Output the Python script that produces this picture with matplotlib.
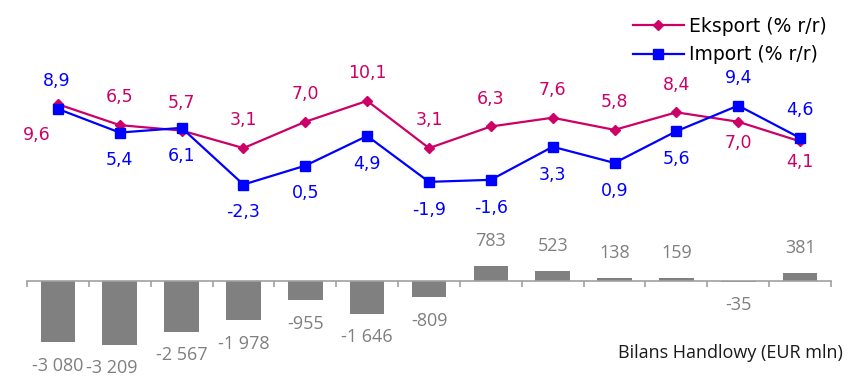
import matplotlib.pyplot as plt

# dane
okresy = list(range(13))
eksport = [9.6, 6.5, 5.7, 3.1, 7.0, 10.1, 3.1, 6.3, 7.6, 5.8, 8.4, 7.0, 4.1]
import_ = [8.9, 5.4, 6.1, -2.3, 0.5, 4.9, -1.9, -1.6, 3.3, 0.9, 5.6, 9.4, 4.6]
bilans = [-3080, -3209, -2567, -1978, -955, -1646, -809, 783, 523, 138, 159, -35, 381]

# polozenie etykiet (1 = nad punktem, -1 = pod punktem)
eks_poz = [-1, 1, 1, 1, 1, 1, 1, 1, 1, 1, 1, -1, -1]
imp_poz = [1, -1, -1, -1, -1, -1, -1, -1, -1, -1, -1, 1, 1]

kol_eks = '#CC0066'
kol_imp = '#0000FF'
kol_bar = '#808080'

fmt = lambda v: f"{v:.1f}".replace('.', ',')

fig = plt.figure(figsize=(8.55, 3.76), dpi=100)
x0, szer = 27 / 855, 804 / 855

# gorny wykres - linie
ax1 = fig.add_axes([x0, (376 - 215) / 376, szer, 155 / 376])
ax1.plot(okresy, eksport, color=kol_eks, lw=1.6, marker='D', ms=5, label='Eksport (% r/r)')
ax1.plot(okresy, import_, color=kol_imp, lw=1.6, marker='s', ms=7, label='Import (% r/r)')
ax1.set_xlim(-0.5, 12.5)
ax1.set_ylim(-6.81, 16.15)
ax1.axis('off')

for i, v in enumerate(eksport):
    dx = -15 if i == 0 else 0
    if eks_poz[i] > 0:
        dy = 20
    else:
        dy = -22 if i == 0 else -15
    ax1.annotate(fmt(v), (i, v), xytext=(dx, dy), textcoords='offset points',
                 ha='center', va='center', color=kol_eks, fontsize=12.5)
for i, v in enumerate(import_):
    dy = 20 if imp_poz[i] > 0 else -20
    ax1.annotate(fmt(v), (i, v), xytext=(-1 if i == 0 else 0, dy), textcoords='offset points',
                 ha='center', va='center', color=kol_imp, fontsize=12.5)

fig.legend(loc='upper right', bbox_to_anchor=(0.976, 0.975), frameon=False, fontsize=13.5,
           handlelength=2.7, handletextpad=0.3, labelspacing=0.5, borderaxespad=0)

# dolny wykres - bilans
ax2 = fig.add_axes([x0, 0, szer, 146 / 376])
ax2.bar(okresy, bilans, width=0.56, color=kol_bar)
ax2.set_xlim(-0.5, 12.5)
ax2.set_ylim(-4798, 2576)
for s in ['top', 'right', 'left']:
    ax2.spines[s].set_visible(False)
ax2.spines['bottom'].set_position(('data', 0))
ax2.spines['bottom'].set_color('#A0A0A0')
ax2.spines['bottom'].set_linewidth(1.2)
ax2.set_yticks([])
ax2.set_xticks([i - 0.5 for i in range(14)])
ax2.set_xticklabels([])
ax2.tick_params(axis='x', direction='out', length=4.5, color='#A0A0A0', width=1.2)

for i, v in enumerate(bilans):
    dy = 18 if v > 0 else -17
    dx = -6 if i == 1 else 0
    ax2.annotate(f"{v:,}".replace(',', ' '), (i, v), xytext=(dx, dy), textcoords='offset points',
                 ha='center', va='center', color='#7F7F7F', fontsize=13, family='Open Sans')

fig.text(0.986, 0.06, 'Bilans Handlowy (EUR mln)', ha='right', va='center', fontsize=13,
         family='Open Sans', color='#1A1A1A')

fig.savefig('out.png', dpi=100)
